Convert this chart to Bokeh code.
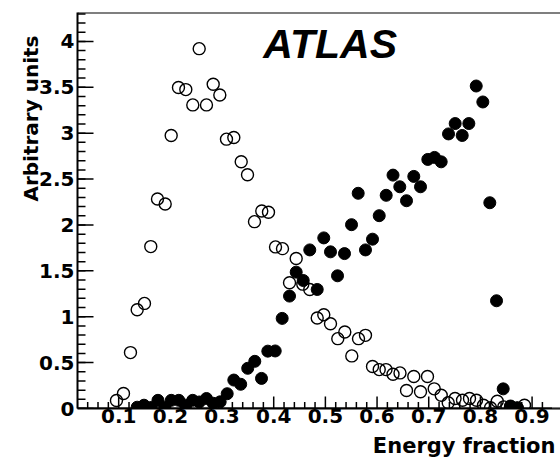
import numpy as np
from bokeh.plotting import figure
from bokeh.models import Range1d, FixedTicker, Title, LinearAxis, Label, Span
from bokeh.embed import file_html
from bokeh.resources import INLINE

# ---- data ----
open_x = [0.0957, 0.1093, 0.1228, 0.1358, 0.1499, 0.1621, 0.1751, 0.1900, 0.2016, 0.2157,
          0.2299, 0.2434, 0.2558, 0.2699, 0.2829, 0.2957, 0.3086, 0.3228, 0.3371, 0.3493,
          0.3628, 0.3769, 0.3899, 0.4035, 0.4170, 0.4306, 0.4435, 0.4563, 0.4698, 0.4842,
          0.4969, 0.5099, 0.5240, 0.5376, 0.5511, 0.5641, 0.5776, 0.5912, 0.6042, 0.6173,
          0.6309, 0.6444, 0.6570, 0.6711, 0.6841, 0.6976, 0.7106, 0.7242, 0.7377, 0.7509,
          0.7654, 0.7789, 0.7925, 0.8060, 0.8196, 0.8326, 0.8453, 0.8583, 0.8713, 0.8853]
open_y = [0.087, 0.163, 0.609, 1.076, 1.145, 1.764, 2.283, 2.228, 2.975, 3.497,
          3.475, 3.308, 3.921, 3.308, 3.533, 3.416, 2.935, 2.953, 2.688, 2.547,
          2.036, 2.152, 2.138, 1.761, 1.742, 1.370, 1.634, 1.355, 1.297, 0.986,
          1.022, 0.924, 0.761, 0.834, 0.573, 0.761, 0.797, 0.457, 0.424, 0.424,
          0.373, 0.388, 0.196, 0.348, 0.182, 0.348, 0.214, 0.145, 0.062, 0.109,
          0.090, 0.109, 0.090, 0.036, 0.008, 0.079, 0.018, 0.020, 0.004, 0.036]

full_x = [0.1358, 0.1490, 0.1630, 0.1760, 0.1892, 0.2018, 0.2163, 0.2293, 0.2432, 0.2560,
          0.2699, 0.2829, 0.2964, 0.3100, 0.3228, 0.3361, 0.3497, 0.3634, 0.3764, 0.3886,
          0.4029, 0.4164, 0.4306, 0.4435, 0.4571, 0.4698, 0.4842, 0.4969, 0.5099, 0.5235,
          0.5370, 0.5506, 0.5635, 0.5776, 0.5912, 0.6042, 0.6177, 0.6309, 0.6440, 0.6570,
          0.6711, 0.6841, 0.6982, 0.7112, 0.7241, 0.7383, 0.7512, 0.7648, 0.7776, 0.7919,
          0.8047, 0.8182, 0.8312, 0.8441, 0.8583, 0.8713]
full_y = [0.014, 0.036, 0.011, 0.089, 0.014, 0.089, 0.089, 0.036, 0.089, 0.071,
          0.109, 0.057, 0.073, 0.161, 0.310, 0.264, 0.438, 0.514, 0.328, 0.625,
          0.627, 0.982, 1.225, 1.486, 1.395, 1.728, 1.297, 1.859, 1.707, 1.446,
          1.688, 2.003, 2.345, 1.728, 1.845, 2.101, 2.323, 2.543, 2.416, 2.264,
          2.529, 2.416, 2.714, 2.736, 2.688, 2.992, 3.105, 2.975, 3.105, 3.514,
          3.340, 2.242, 1.174, 0.214, 0.027, 0.008]

x_ticks = [0.1, 0.2, 0.3, 0.4, 0.5, 0.6, 0.7, 0.8, 0.9]
y_ticks = [0, 0.5, 1, 1.5, 2, 2.5, 3, 3.5, 4]
y_tick_labels = ["0", "0.5", "1", "1.5", "2", "2.5", "3", "3.5", "4"]

x_title = "Energy fraction"
y_title = "Arbitrary units"
logo = "ATLAS"

FONT = "DejaVu Sans"
X0, X1 = 0.0203, 0.955
Y0, Y1 = 0.0, 4.315
PX_X = 516.7   # pixels per x unit
PX_Y = 92.0    # pixels per y unit

x_minor = [float(v) for v in np.round(np.arange(0.02, 0.96, 0.02), 3) if v not in x_ticks]
y_minor = [float(v) for v in np.round(np.arange(0, 4.31, 0.1), 2)]

p = figure(width=560, height=464, output_backend="svg", toolbar_location=None,
           x_range=Range1d(X0, X1), y_range=Range1d(Y0, Y1),
           min_border_left=77, min_border_right=0, min_border_top=12, min_border_bottom=55,
           x_axis_location=None, y_axis_location=None)
p.outline_line_color = None
p.grid.visible = False
p.background_fill_color = "white"
p.border_fill_color = "white"

# axes (labels + lines); ticks drawn inward below
xa = LinearAxis(ticker=FixedTicker(ticks=x_ticks))
ya = LinearAxis(ticker=FixedTicker(ticks=y_ticks))
ya.major_label_overrides = {t: l for t, l in zip(y_ticks, y_tick_labels)}
for ax in (xa, ya):
    ax.axis_line_width = 2
    ax.axis_line_color = "black"
    ax.major_tick_in = 0
    ax.major_tick_out = 0
    ax.minor_tick_in = 0
    ax.minor_tick_out = 0
    ax.major_label_text_font = FONT
    ax.major_label_text_font_style = "bold"
    ax.major_label_text_font_size = "20px"
    ax.major_label_text_color = "black"
xa.major_label_standoff = 0
ya.major_label_standoff = 3
p.add_layout(xa, "below")
p.add_layout(ya, "left")

p.add_layout(Title(text=x_title, align="right", text_font=FONT, text_font_style="bold",
                   text_font_size="21px", text_color="black", offset=5, standoff=13), "below")
p.add_layout(Title(text=y_title, align="right", text_font=FONT, text_font_style="bold",
                   text_font_size="20px", text_color="black", offset=23, standoff=-12), "left")

# inward tick marks
p.segment(x0=x_ticks, y0=[Y0] * len(x_ticks), x1=x_ticks, y1=[Y0 + 12 / PX_Y] * len(x_ticks),
          line_color="black", line_width=1.5)
p.segment(x0=x_minor, y0=[Y0] * len(x_minor), x1=x_minor, y1=[Y0 + 6.5 / PX_Y] * len(x_minor),
          line_color="black", line_width=1.5)
p.segment(x0=[X0] * len(y_ticks), y0=y_ticks, x1=[X0 + 16 / PX_X] * len(y_ticks), y1=y_ticks,
          line_color="black", line_width=1.5)
p.segment(x0=[X0] * len(y_minor), y0=y_minor, x1=[X0 + 8 / PX_X] * len(y_minor), y1=y_minor,
          line_color="black", line_width=1.5)

# data
p.scatter(open_x, open_y, marker="circle", size=12, fill_color=None,
          line_color="black", line_width=1.4)
p.scatter(full_x, full_y, marker="circle", size=12, fill_color="black",
          line_color="black", line_width=1)

p.add_layout(Label(x=0.38, y=3.72, text=logo, text_font="Liberation Sans",
                   text_font_style="bold italic", text_font_size="41px",
                   text_baseline="bottom", text_color="black"))

# frame: mask the right edge, then redraw top border and bottom line
p.add_layout(Span(location=X1 - 4 / PX_X, dimension="height", line_color="white",
                  line_width=9, level="overlay"))
p.add_layout(Span(location=Y1, dimension="width", line_color="black", line_width=2,
                  level="overlay"))
p.add_layout(Span(location=Y0, dimension="width", line_color="black", line_width=2,
                  level="overlay"))

open("out.html", "w").write(file_html(p, INLINE))
